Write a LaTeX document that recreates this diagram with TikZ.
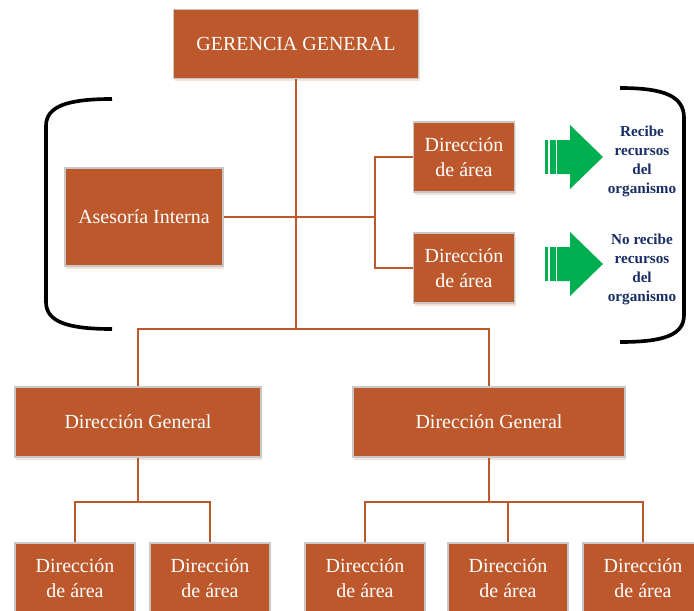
\documentclass[tikz,border=0pt]{standalone}
\usepackage{fontspec}
\setmainfont{Liberation Serif}
\usetikzlibrary{shadows}
\definecolor{boxbrown}{RGB}{188,88,44}
\definecolor{boxedge}{RGB}{200,200,200}
\definecolor{arrowgreen}{RGB}{0,176,80}
\definecolor{notenavy}{RGB}{25,45,100}
\tikzset{
  orgbox/.style={draw=boxedge, line width=0.8pt, fill=boxbrown, text=white,
    align=center, inner sep=2pt,
    font=\fontsize{14.2}{17.8}\selectfont,
    drop shadow={shadow xshift=1pt, shadow yshift=-2pt, fill=boxbrown!35, opacity=0.5}},
  areabox/.style={orgbox, minimum width=3cm, minimum height=1.75cm},
  link/.style={draw=boxbrown, line width=1.4pt},
  bracket/.style={draw=black, line width=2.6pt},
  note/.style={text=notenavy, align=center, font=\bfseries\fontsize{10.8}{13.5}\selectfont}
}
\begin{document}
\begin{tikzpicture}[x=0.025cm, y=-0.025cm]
  \clip (0,0) rectangle (694,610);

  % Top level
  \node[orgbox, minimum width=6.125cm, minimum height=1.725cm] (gg) at (296,44) {GERENCIA GENERAL};

  % Staff level
  \node[orgbox, minimum width=3.95cm, minimum height=2.45cm] (ai) at (144,217) {Asesoría Interna};
  \node[orgbox, minimum width=2.525cm, minimum height=1.75cm] (da1) at (464,157) {Dirección\\de área};
  \node[orgbox, minimum width=2.525cm, minimum height=1.75cm] (da2) at (464,268) {Dirección\\de área};

  % Second level
  \node[orgbox, minimum width=6.15cm, minimum height=1.75cm] (dgL) at (138,422) {Dirección General};
  \node[orgbox, minimum width=6.8cm, minimum height=1.75cm] (dgR) at (489,422) {Dirección General};

  % Bottom level
  \foreach \x [count=\i] in {75,210,365,508,643} {
    \node[areabox] (a\i) at (\x,578) {Dirección\\de área};
  }

  % Junctions
  \coordinate (hub) at (296,329);
  \coordinate (split) at (375,217);
  \coordinate (jL) at (138,502);
  \coordinate (jR) at (489,502);

  % Connectors
  \draw[link] (gg.south) -- (hub);
  \draw[link] (dgL.north) |- (hub) -| (dgR.north);
  \draw[link] (ai.east) -- (split);
  \draw[link] (da1.west) -| (split) |- (da2.west);
  \draw[link] (dgL.south) -- (jL);
  \draw[link] (a1.north) |- (jL) -| (a2.north);
  \draw[link] (dgR.south) -- (jR);
  \draw[link] (a3.north) |- (jR) -| (a5.north);
  \draw[link] (a4.north) -- (a4.north |- jR);

  % Brackets
  \draw[bracket] (112,99) .. controls (68,99) and (46,106) .. (46,126) -- (46,302)
    .. controls (46,322) and (68,329) .. (112,329);
  \draw[bracket] (620,88) .. controls (664,88) and (684,96) .. (684,118) -- (684,315)
    .. controls (684,335) and (664,342) .. (620,342);

  % Green arrows
  \foreach \y in {157,264} {
    \fill[arrowgreen] (545,\y-17) rectangle (548.3,\y+17);
    \fill[arrowgreen] (549.7,\y-17) rectangle (555.7,\y+17);
    \fill[arrowgreen] (557,\y-17) -- (570,\y-17) -- (570,\y-32) -- (603,\y)
      -- (570,\y+32) -- (570,\y+17) -- (557,\y+17) -- cycle;
  }

  % Notes
  \node[note] (n1) at (642,161) {Recibe\\recursos\\del\\organismo};
  \node[note] (n2) at (642,269) {No recibe\\recursos\\del\\organismo};
\end{tikzpicture}
\end{document}
